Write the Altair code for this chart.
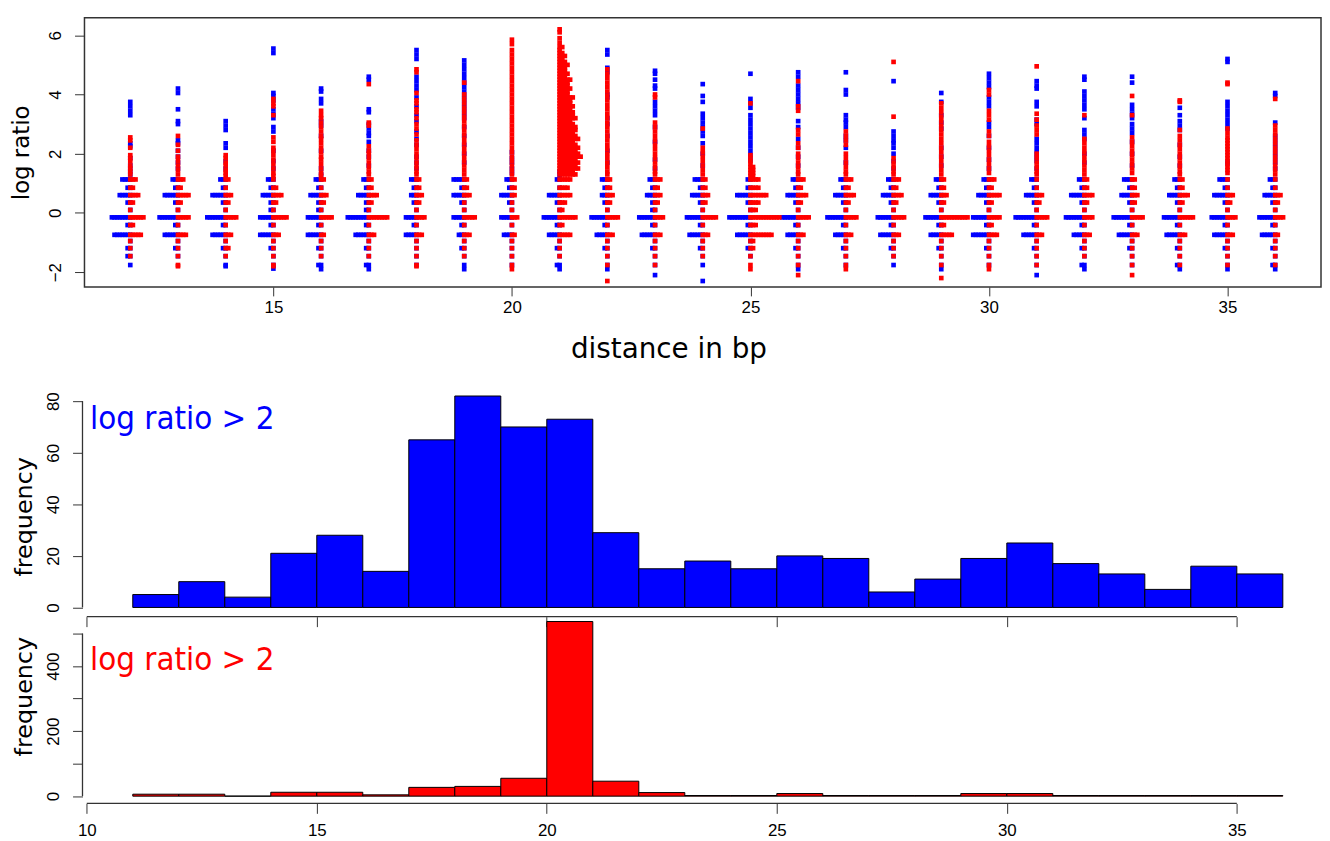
import altair as alt
import pandas as pd

# ---------------- data ----------------
DIST = list(range(12, 37))
LEVELS = [-1.76, -1.46, -1.19, -0.95, -0.74, -0.41, -0.15, 0.1, 0.35, 0.6, 0.85, 1.13]

# number of stacked observations at each discrete level (order of LEVELS)
BLUE_CORE = {
    12: [1, 2, 2, 1, 7, 2, 8, 1, 2, 5, 2, 4],
    13: [0, 1, 2, 1, 6, 2, 8, 1, 2, 6, 2, 3],
    14: [1, 1, 2, 1, 6, 2, 8, 1, 2, 6, 2, 3],
    15: [1, 1, 2, 1, 6, 2, 6, 2, 2, 5, 2, 3],
    16: [2, 1, 2, 1, 6, 2, 6, 2, 2, 5, 2, 3],
    17: [2, 1, 2, 1, 6, 2, 9, 2, 2, 5, 2, 3],
    18: [1, 1, 1, 1, 5, 2, 5, 1, 2, 3, 2, 3],
    19: [1, 1, 2, 1, 3, 2, 5, 1, 2, 5, 2, 5],
    20: [1, 1, 1, 1, 4, 1, 5, 1, 2, 5, 2, 3],
    21: [2, 1, 2, 1, 5, 2, 7, 1, 2, 5, 1, 2],
    22: [1, 1, 2, 1, 5, 2, 7, 1, 2, 3, 2, 3],
    23: [1, 1, 2, 1, 6, 2, 7, 2, 2, 4, 2, 3],
    24: [1, 1, 2, 1, 6, 2, 7, 1, 2, 5, 2, 4],
    25: [0, 1, 2, 1, 6, 2, 9, 1, 2, 6, 2, 2],
    26: [1, 1, 2, 1, 5, 2, 7, 1, 2, 5, 2, 3],
    27: [1, 1, 2, 1, 5, 2, 8, 1, 2, 5, 2, 3],
    28: [1, 1, 2, 1, 6, 2, 7, 1, 2, 5, 2, 3],
    29: [1, 1, 2, 1, 5, 2, 7, 1, 2, 5, 2, 3],
    30: [1, 1, 2, 1, 7, 2, 7, 1, 2, 5, 2, 3],
    31: [1, 1, 2, 1, 6, 2, 9, 1, 2, 5, 2, 3],
    32: [2, 1, 2, 1, 5, 2, 8, 1, 2, 6, 2, 3],
    33: [1, 1, 2, 1, 6, 2, 8, 1, 2, 5, 2, 4],
    34: [2, 1, 2, 1, 6, 2, 7, 1, 2, 5, 2, 3],
    35: [1, 1, 2, 1, 6, 2, 7, 1, 2, 6, 2, 4],
    36: [2, 1, 2, 1, 6, 2, 7, 1, 2, 5, 2, 3],
}
RED_CORE = {
    12: [0, 1, 1, 1, 5, 2, 6, 1, 2, 4, 2, 3],
    13: [1, 1, 1, 1, 4, 1, 5, 1, 2, 5, 2, 3],
    14: [0, 1, 2, 1, 3, 1, 5, 1, 2, 3, 1, 2],
    15: [1, 1, 1, 1, 3, 1, 6, 1, 2, 4, 2, 1],
    16: [0, 1, 1, 1, 2, 1, 5, 1, 2, 3, 1, 2],
    17: [0, 1, 1, 1, 3, 1, 8, 1, 2, 4, 2, 2],
    18: [1, 1, 1, 1, 3, 1, 4, 1, 2, 3, 2, 2],
    19: [0, 1, 1, 1, 3, 1, 5, 1, 1, 3, 2, 2],
    20: [1, 1, 1, 1, 2, 1, 3, 1, 1, 2, 2, 2],
    21: [0, 1, 1, 1, 5, 2, 7, 2, 3, 5, 4, 5],
    22: [1, 1, 1, 1, 3, 1, 5, 1, 2, 3, 2, 2],
    23: [1, 1, 1, 1, 3, 1, 4, 1, 2, 3, 2, 3],
    24: [0, 1, 1, 1, 3, 1, 6, 1, 2, 3, 2, 2],
    25: [1, 1, 2, 2, 9, 3, 12, 3, 4, 7, 4, 4],
    26: [1, 1, 1, 1, 3, 1, 5, 1, 2, 4, 2, 3],
    27: [1, 1, 1, 1, 3, 1, 5, 1, 2, 4, 2, 3],
    28: [0, 1, 1, 1, 3, 1, 5, 1, 2, 4, 2, 3],
    29: [1, 1, 1, 1, 5, 2, 11, 1, 2, 3, 2, 2],
    30: [1, 1, 1, 1, 4, 2, 5, 1, 2, 5, 2, 3],
    31: [1, 1, 1, 1, 3, 1, 5, 1, 2, 3, 1, 1],
    32: [0, 1, 1, 1, 3, 1, 4, 1, 2, 4, 2, 2],
    33: [1, 1, 1, 1, 3, 1, 5, 1, 2, 3, 2, 2],
    34: [1, 1, 1, 1, 3, 1, 6, 1, 2, 4, 2, 2],
    35: [1, 1, 1, 1, 3, 1, 4, 1, 2, 3, 1, 1],
    36: [1, 1, 1, 1, 2, 1, 4, 1, 2, 3, 1, 1],
}

# single observations outside the core levels
BLUE_TAIL = {
    12: [3.75, 3.6, 3.45, 3.3, 2.35, 2.25, 1.85, 1.6, 1.45, 1.3],
    13: [4.2, 4.05, 3.5, 3.1, 3.0, 2.45, 2.35, 2.1, 1.9, 1.7, 1.5],
    14: [3.1, 2.95, 2.8, 2.35, 2.2, 1.75, 1.5, -1.8],
    15: [5.55, 5.4, 4.05, 3.95, 3.8, 3.5, 3.35, 3.2, 2.9, 2.75, 2.1, 1.75, 1.5, -1.88],
    16: [4.2, 4.1, 3.85, 3.7, 3.1, 2.95, 2.6, 2.1, 1.5, 1.3, -1.9],
    17: [4.6, 4.5, 3.5, 3.4, 3.0, 2.85, 2.7, 2.6, 2.4, 2.1, 1.9, 1.6, -1.9],
    18: [5.5, 5.35, 5.2, 4.6, 4.45, 4.3, 4.15, 3.9, 3.6, 3.3, 3.1, 2.75, 2.5, 2.3, 1.9, 1.7, 1.5],
    19: [5.15, 5.0, 4.85, 4.7, 4.55, 4.4, 4.25, 4.1, 3.95, 3.8, 3.65, 3.5, 3.35, 3.2, 2.9, 2.6, 2.3, 2.0, 1.7, -1.9],
    20: [2.05, 1.85, 1.7, 1.5, 1.35],
    21: [1.4, 1.25, -1.9],
    22: [5.5, 5.35, 4.9, 4.75, 4.0, 3.9, 3.2, 3.0, 2.6, 2.1, 1.7, -1.9],
    23: [4.8, 4.7, 4.5, 4.3, 4.2, 3.75, 3.6, 3.45, 3.3, 2.9, 2.4, 1.8, 1.5, -2.1],
    24: [4.35, 3.95, 3.75, 3.35, 3.2, 3.05, 2.9, 2.75, 2.6, 2.35, 2.0, 1.6, -2.3],
    25: [4.7, 3.85, 3.7, 3.55, 3.3, 3.15, 3.0, 2.85, 2.7, 2.55, 2.4, 2.25, 2.1, 1.95, 1.8],
    26: [4.75, 4.6, 4.3, 4.15, 4.0, 3.85, 3.7, 3.55, 3.1, 2.9, 2.5, 2.2, 1.9, 1.6, -1.9],
    27: [4.75, 4.15, 4.0, 3.3, 3.15, 3.05, 2.9, 2.6, 2.45, 2.2, 1.7],
    28: [4.45, 2.75, 2.6, 2.45, 2.35, 2.2, 2.0, 1.75, 1.5],
    29: [4.05, 3.75, 3.3, 3.05, 2.85, 2.2, 1.9, 1.6, -1.9],
    30: [4.7, 4.55, 4.4, 4.25, 3.9, 3.75, 3.6, 3.05, 2.9, 2.6, 2.2, 1.8, 1.5],
    31: [4.45, 4.3, 4.2, 3.75, 3.6, 3.15, 3.0, 2.5, 2.35, 2.2, 2.05, 1.9, 1.75, 1.5, -2.1],
    32: [4.6, 4.5, 4.1, 3.95, 3.8, 3.65, 3.5, 3.2, 2.8, 2.65, 2.5, 2.0, 1.7, -1.9],
    33: [4.6, 4.4, 3.65, 3.5, 3.35, 3.2, 3.0, 2.85, 2.7, 2.4, 2.0, 1.6],
    34: [3.55, 3.3, 3.1, 2.95, 2.8, 2.3, 1.9, 1.6, -1.9],
    35: [5.2, 5.1, 3.75, 3.6, 3.45, 3.3, 3.15, 3.0, 2.85, 1.7, -1.9],
    36: [4.05, 3.95, 3.05, 2.6, 2.45, 2.3, 2.15, 2.0, 1.85, 1.7, 1.5, -1.9],
}
RED_TAIL = {
    12: [2.55, 2.45, 2.2, 1.95, 1.85, 1.75, 1.6, 1.5, 1.4, 1.3],
    13: [2.6, 2.3, 2.1, 1.9, 1.75, 1.6, 1.45, 1.3, -1.8],
    14: [1.95, 1.85, 1.7, 1.6, 1.45, 1.35, 1.25],
    15: [3.85, 3.7, 3.6, 3.3, 2.55, 2.4, 2.2, 2.1, 1.95, 1.8, 1.65, 1.5, 1.35, 1.25, -1.8],
    16: [3.45, 3.3, 3.2, 3.05, 2.9, 2.75, 2.6, 2.5, 2.35, 2.2, 2.05, 1.9, 1.8, 1.65, 1.5, 1.35, 1.25],
    17: [4.35, 3.05, 2.95, 2.25, 2.1, 2.0, 1.85, 1.7, 1.55, 1.4, 1.3],
    18: [4.85, 4.75, 4.05, 3.8, 3.7, 3.5, 3.4, 3.2, 3.0, 2.85, 2.65, 2.45, 2.3, 2.15, 2.0, 1.85, 1.7, 1.55, 1.4, 1.3, -1.8],
    19: [4.4, 4.0, 3.85, 3.7, 3.55, 3.4, 3.25, 3.1, 2.95, 2.8, 2.65, 2.5, 2.35, 2.2, 2.05, 1.9, 1.75, 1.6, 1.45, 1.3],
    20: [5.85, 5.7, 5.5, 5.35, 5.2, 5.05, 4.9, 4.75, 4.6, 4.45, 4.3, 4.15, 4.0, 3.85, 3.7, 3.55, 3.4, 3.25,
         3.1, 2.95, 2.8, 2.65, 2.5, 2.35, 2.2, 2.05, 1.9, 1.75, 1.6, 1.45, 1.3, -1.9],
    21: [],
    22: [4.85, 4.7, 4.55, 4.4, 4.25, 4.1, 3.95, 3.8, 3.65, 3.5, 3.35, 3.2, 3.05, 2.9, 2.75, 2.6, 2.45, 2.3,
         2.15, 2.0, 1.85, 1.7, 1.55, 1.4, 1.3, -2.3],
    23: [4.0, 3.9, 3.05, 2.9, 2.75, 2.6, 2.45, 2.3, 2.15, 2.0, 1.85, 1.7, 1.55, 1.4, 1.3],
    24: [2.85, 2.2, 2.05, 1.9, 1.75, 1.6, 1.45, 1.3],
    25: [3.7, 1.95, 1.85, 1.75, 1.65, 1.55, 1.45, 1.35, 1.25, 1.55, 1.45, 1.35, 1.25, -1.9],
    26: [4.45, 3.6, 3.45, 2.8, 2.65, 2.35, 2.2, 2.0, 1.85, 1.7, 1.55, 1.4, 1.3, -2.1],
    27: [2.75, 2.6, 2.45, 2.3, 2.0, 1.85, 1.7, 1.55, 1.4, 1.3, -1.9],
    28: [5.1, 3.25, 1.85, 1.7, 1.55, 1.4, 1.3],
    29: [3.7, 3.55, 3.4, 3.25, 3.1, 2.95, 2.8, 2.65, 2.5, 2.35, 2.2, 2.05, 1.9, 1.75, 1.6, 1.45, 1.3, -2.2],
    30: [4.15, 4.0, 3.45, 3.3, 3.15, 2.75, 2.6, 2.4, 2.25, 2.1, 1.95, 1.8, 1.65, 1.5, 1.35, -1.9],
    31: [4.95, 3.35, 3.15, 2.95, 2.8, 2.65, 2.0, 1.85, 1.7, 1.55, 1.4, 1.3],
    32: [3.3, 2.5, 2.35, 2.2, 2.05, 1.9, 1.75, 1.6, 1.45, 1.3],
    33: [3.95, 3.3, 2.55, 2.4, 2.25, 2.1, 1.95, 1.8, 1.65, 1.5, 1.35, -2.1],
    34: [3.8, 3.75, 2.8, 2.6, 2.45, 2.3, 2.15, 2.0, 1.85, 1.7, 1.55, 1.4, 1.3],
    35: [4.4, 4.35, 2.85, 2.7, 2.55, 2.45, 2.35, 2.25, 2.15, 2.05, 1.95, 1.85, 1.75, 1.65, 1.55, 1.45, 1.35],
    36: [3.85, 2.95, 2.8, 2.65, 2.5, 2.35, 2.2, 2.05, 1.9, 1.75, 1.6, 1.45, 1.3],
}
# the dense red cloud at distance 21
RED21_VALUES = [6.2, 6.1, 5.9, 5.75, 5.6, 5.5, 5.4, 5.3, 5.2, 5.1, 5.0, 4.9, 4.8, 4.7, 4.6, 4.5,
                4.4, 4.3, 4.2, 4.1, 4.0, 3.9, 3.8, 3.7, 3.6, 3.5, 3.4, 3.3, 3.2, 3.1, 3.0, 2.9,
                2.8, 2.7, 2.6, 2.5, 2.4, 2.3, 2.2, 2.1, 2.0, 1.9, 1.8, 1.7, 1.6, 1.5, 1.4, 1.3]
RED21_COUNTS = [1, 1, 1, 1, 2, 1, 2, 3, 2, 3, 4, 3, 3, 4, 3, 5,
                4, 4, 5, 4, 4, 6, 5, 5, 6, 5, 6, 6, 7, 5, 6, 7,
                7, 6, 7, 8, 6, 7, 8, 7, 8, 9, 7, 8, 7, 8, 6, 7]

# histograms of distances for log ratio > 2
BIN_START = list(range(11, 36))
BLUE_FREQ = [5, 10, 4, 21, 28, 14, 65, 82, 70, 73, 29, 15, 18, 15, 20, 19, 6, 11, 19, 25, 17, 13, 7, 16, 13]
RED_FREQ = [6, 6, 0, 12, 12, 4, 27, 30, 55, 537, 46, 11, 2, 2, 8, 2, 2, 2, 8, 8, 2, 2, 2, 2, 2]

TOP_X_TICKS = [15, 20, 25, 30, 35]
TOP_Y_TICKS = [-2, 0, 2, 4, 6]
HIST_X_TICKS = [10, 15, 20, 25, 30, 35]
MID_Y_TICKS = [0, 20, 40, 60, 80]
BOT_Y_TICKS = [0, 100, 200, 300, 400, 500]
LABEL_TEXT = "log ratio > 2"

# ---------------- build tables ----------------
rows = []


def add(d, v, s, n=1):
    for _ in range(n):
        rows.append({"distance": d, "logratio": v, "series": s})


for d in DIST:
    for lv, n in zip(LEVELS, BLUE_CORE[d]):
        add(d, lv, "blue", n)
    for v in BLUE_TAIL[d]:
        add(d, v, "blue")
    for lv, n in zip(LEVELS, RED_CORE[d]):
        add(d, lv, "red", n)
    for v in RED_TAIL[d]:
        add(d, v, "red")
for v, n in zip(RED21_VALUES, RED21_COUNTS):
    add(21, v, "red", n)
pts = pd.DataFrame(rows)

hb = pd.DataFrame({"start": BIN_START, "end": [s + 1 for s in BIN_START], "freq": BLUE_FREQ, "zero": 0})
hr = pd.DataFrame({"start": BIN_START, "end": [s + 1 for s in BIN_START], "freq": RED_FREQ, "zero": 0})

BLUE = "#0000FF"
RED = "#FF0000"
AX = "#333333"
TICKFONT = "Liberation Sans Narrow, Liberation Sans, Arial, sans-serif"
TITLEFONT = "DejaVu Sans"
W = 1245
STEP = 0.055
TICK_FS = 17

# ---------------- top strip chart ----------------
top_x = alt.X("xpos:Q", scale=alt.Scale(domain=[11.04, 36.96], nice=False, zero=False),
              axis=alt.Axis(values=TOP_X_TICKS, title="distance in bp", grid=False, domain=False,
                            tickSize=9, tickColor=AX, labelPadding=4, labelFontSize=TICK_FS,
                            labelFont=TICKFONT, labelColor="black", labelFlush=False,
                            titleFontSize=28, titleFont=TITLEFONT, titleFontWeight="normal",
                            titleColor="black", titlePadding=20, titleX=588))
top_y = alt.Y("logratio:Q", scale=alt.Scale(domain=[-2.5, 6.59], nice=False, zero=False),
              axis=alt.Axis(values=TOP_Y_TICKS, title="log ratio", grid=False, domain=False,
                            tickSize=10, tickColor=AX, labelAngle=-90, labelAlign="center",
                            labelBaseline="bottom", labelPadding=10, labelFontSize=TICK_FS,
                            labelFont=TICKFONT, labelColor="black", labelFlush=False,
                            titleFontSize=23, titleFont=TITLEFONT, titleFontWeight="normal",
                            titleColor="black", titlePadding=13))

base = alt.Chart(pts).transform_window(
    k="row_number()", groupby=["distance", "series", "logratio"]
).transform_calculate(
    xpos=f"datum.distance + (datum.series == 'blue' ? -1 : 1) * (datum.k - 1) * {STEP}"
)
blue_pts = base.transform_filter("datum.series == 'blue'").mark_square(
    size=22, color=BLUE, opacity=1).encode(x=top_x, y=top_y)
red_pts = base.transform_filter("datum.series == 'red'").mark_square(
    size=22, color=RED, opacity=1).encode(x=top_x, y=top_y)
top = alt.layer(blue_pts, red_pts).properties(
    width=W, height=271, view=alt.ViewBackground(stroke=AX, strokeWidth=1.5))

# ---------------- histograms ----------------
HX_DOMAIN = [9.95, 36.83]


def hist_panel(df, color, height, ydomain, yticks, label_y, title_y, show_xlabels, even_only):
    xs = alt.Scale(domain=HX_DOMAIN, nice=False, zero=False)
    ys = alt.Scale(domain=ydomain, nice=False, zero=False)
    xaxis = alt.Axis(values=HIST_X_TICKS, title=None, grid=False, domain=False, tickSize=10,
                     tickColor=AX, labels=show_xlabels, labelPadding=9, labelFontSize=TICK_FS,
                     labelFont=TICKFONT, labelColor="black", labelFlush=False)
    yaxis = alt.Axis(values=yticks, title="frequency", grid=False, domain=False, tickSize=10,
                     tickColor=AX, offset=2, labelAngle=-90, labelAlign="center",
                     labelBaseline="bottom", labelPadding=10, labelFontSize=TICK_FS,
                     labelFont=TICKFONT, labelColor="black", labelFlush=False,
                     titleFontSize=24, titleFont=TITLEFONT, titleFontWeight="normal",
                     titleColor="black", titlePadding=8, titleY=title_y,
                     labelExpr="datum.value % 200 == 0 ? datum.label : ''" if even_only else "datum.label")
    X = alt.X("start:Q", scale=xs, axis=xaxis)
    Y = alt.Y("freq:Q", scale=ys, axis=yaxis)
    bars = alt.Chart(df).mark_bar(color=color, stroke="black", strokeWidth=1).encode(
        x=X, x2="end:Q", y=Y, y2="zero:Q")
    xline = alt.Chart(pd.DataFrame({"start": [HIST_X_TICKS[0]], "end": [HIST_X_TICKS[-1]]})).mark_rule(
        color=AX, strokeWidth=1.3).encode(x=X, x2="end:Q", y=alt.value(height))
    yline = alt.Chart(pd.DataFrame({"freq": [yticks[0]], "zero": [yticks[-1]]})).mark_rule(
        color=AX, strokeWidth=1.3).encode(y=Y, y2="zero:Q", x=alt.value(-2))
    lab = alt.Chart(pd.DataFrame({"start": [10.07], "freq": [label_y], "t": [LABEL_TEXT]})).mark_text(
        align="left", baseline="middle", fontSize=33, font="DejaVu Sans Condensed, DejaVu Sans",
        color=color).encode(x=X, y=Y, text="t:N")
    return alt.layer(bars, xline, yline, lab).properties(width=W, height=height)


mid = hist_panel(hb, BLUE, 332, [-3.58, 124.3], MID_Y_TICKS, 73, 231, False, False)
bot = hist_panel(hr, RED, 188, [-22.3, 551.9], BOT_Y_TICKS, 420, 80, True, True)

chart = alt.VConcatChart(
    vconcat=[top, mid, bot], spacing=0, bounds="flush",
    padding={"left": 2, "top": 6, "right": 0, "bottom": 0},
).configure_view(stroke=None)

chart.save("out.html", embed_options={"renderer": "svg", "actions": False})
